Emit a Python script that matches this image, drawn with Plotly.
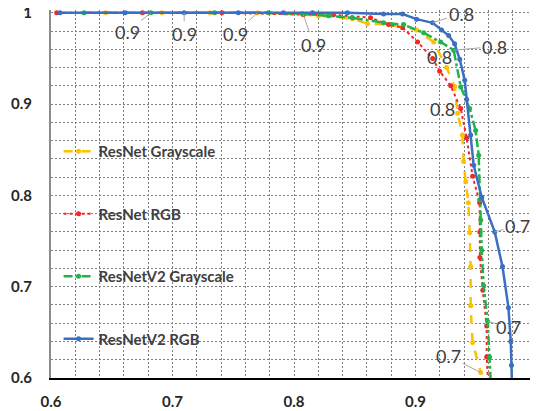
import plotly.graph_objects as go

# ---- data (recall, precision style curves) ----
orange_x = [0.645, 0.6913, 0.7311, 0.7698, 0.8077, 0.8201, 0.8481, 0.8605, 0.8787, 0.9009, 0.9149,
            0.9256, 0.9322, 0.9347, 0.9386, 0.9396, 0.9413, 0.9435, 0.9446, 0.9454, 0.9454, 0.9470, 0.9537]
orange_y = [1.0, 1.0, 1.0, 1.0, 0.9978, 0.9967, 0.9934, 0.988, 0.987, 0.981, 0.968,
            0.940, 0.919, 0.890, 0.866, 0.837, 0.815, 0.792, 0.759, 0.722, 0.679, 0.639, 0.606]

red_x = [0.6047, 0.6753, 0.7407, 0.8077, 0.8325, 0.863, 0.8778, 0.8894, 0.9017, 0.9141, 0.9199,
         0.929, 0.9372, 0.9421, 0.9470, 0.9528, 0.953, 0.953, 0.9554, 0.9586, 0.9586, 0.9600]
red_y = [1.0, 1.0, 1.0, 0.998, 0.9978, 0.9945, 0.987, 0.9836, 0.968, 0.950, 0.936,
         0.920, 0.895, 0.863, 0.821, 0.792, 0.760, 0.732, 0.696, 0.657, 0.623, 0.590]

green_x = [0.6272, 0.6822, 0.7346, 0.7789, 0.8067, 0.8284, 0.8481, 0.8737, 0.8902, 0.9067, 0.9207,
           0.9314, 0.9372, 0.9446, 0.9495, 0.952, 0.9528, 0.9537, 0.9545, 0.9561, 0.9594, 0.961, 0.9622]
green_y = [1.0, 1.0, 1.0, 1.0, 0.9989, 0.9967, 0.9945, 0.989, 0.987, 0.978, 0.968,
           0.959, 0.919, 0.895, 0.871, 0.844, 0.795, 0.773, 0.740, 0.701, 0.662, 0.623, 0.590]

blue_x = [0.6074, 0.661, 0.7096, 0.7542, 0.7913, 0.8152, 0.844, 0.8737, 0.8894, 0.9009, 0.9141,
          0.9215, 0.9273, 0.9322, 0.9364, 0.9405, 0.9421, 0.9454, 0.9479, 0.9545, 0.9652, 0.9716,
          0.9765, 0.9784, 0.979, 0.9795]
blue_y = [1.0, 1.0, 1.0, 1.0, 1.0, 1.0, 1.0, 0.9986, 0.9986, 0.993, 0.989,
          0.981, 0.975, 0.966, 0.949, 0.926, 0.905, 0.866, 0.833, 0.798, 0.760, 0.722,
          0.677, 0.640, 0.614, 0.590]

names = ["ResNet Grayscale", "ResNet RGB", "ResNetV2 Grayscale", "ResNetV2 RGB"]

tick_vals = [0.6, 0.7, 0.8, 0.9, 1.0]
tick_text = ["0.6", "0.7", "0.8", "0.9", "1"]

# threshold labels: (text, point x, point y, label x, label y, leader)
label_text = ["0.9", "0.9", "0.9", "0.9", "0.8", "0.8", "0.8", "0.8", "0.7", "0.7", "0.7"]
label_px = [0.6822, 0.7096, 0.7698, 0.8077, 0.9141, 0.9314, 0.9141, 0.9347, 0.9652, 0.9594, 0.9537]
label_py = [1.0, 1.0, 1.0, 0.998, 0.989, 0.959, 0.950, 0.890, 0.760, 0.662, 0.606]
label_lx = [0.6627, 0.7096, 0.7517, 0.8160, 0.9375, 0.9650, 0.9200, 0.9223, 0.9840, 0.9768, 0.9273]
label_ly = [0.979, 0.977, 0.977, 0.965, 0.999, 0.963, 0.951, 0.895, 0.767, 0.656, 0.624]
label_leader = [True, True, True, True, True, True, False, False, True, True, True]

fig = go.Figure()

styles = [
    dict(color="#FFC000", dash="dash", width=2.5),
    dict(color="#F02828", dash="dot", width=2),
    dict(color="#22B24C", dash="dashdot", width=2.5),
    dict(color="#3A6FC4", dash="solid", width=2.5),
]
series = [(orange_x, orange_y), (red_x, red_y), (green_x, green_y), (blue_x, blue_y)]

for i, ((xs, ys), st) in enumerate(zip(series, styles)):
    fig.add_trace(go.Scatter(
        x=xs, y=ys, mode="lines+markers", name=names[i],
        legendgroup=f"g{i}",
        line=dict(color=st["color"], dash=st["dash"], width=st["width"]),
        marker=dict(color=st["color"], size=5, symbol="circle"),
    ))

lab_font = dict(family="Lato", size=18, color="#404040")
for t, px, py, lx, ly, lead in zip(label_text, label_px, label_py, label_lx, label_ly, label_leader):
    if lead:
        fig.add_annotation(x=px, y=py, ax=lx, ay=ly, xref="x", yref="y", axref="x", ayref="y",
                           text=t, showarrow=True, arrowhead=0, arrowwidth=1, arrowcolor="#A6A6A6",
                           standoff=0, font=lab_font)
    else:
        fig.add_annotation(x=lx, y=ly, xref="x", yref="y", text=t, showarrow=False, font=lab_font)

grid_common = dict(gridcolor="#7F7F7F", gridwidth=1, griddash="2px,2px")
tick_font = dict(family="Lato", size=15, color="#262626", weight="bold")

fig.update_xaxes(
    range=[0.6, 1.0], tickvals=tick_vals, ticktext=tick_text,
    showgrid=True, **grid_common,
    minor=dict(dtick=0.02, tick0=0.6, showgrid=True, **grid_common),
    showline=True, linecolor="#000000", linewidth=1.5,
    ticks="", ticklabelstandoff=9, automargin=False, zeroline=False,
    ticklabeloverflow="allow", tickfont=tick_font,
)
fig.update_yaxes(
    range=[0.6, 1.003], tickvals=tick_vals, ticktext=tick_text,
    showgrid=True, **grid_common,
    minor=dict(dtick=0.02, tick0=0.6, showgrid=True, **grid_common),
    showline=True, linecolor="#8C8C8C", linewidth=2,
    ticks="", ticklabelstandoff=14, automargin=False, zeroline=False,
    ticklabeloverflow="allow", tickfont=tick_font,
)

fig.update_layout(
    width=530, height=403,
    margin=dict(l=43, r=1, t=2, b=33),
    paper_bgcolor="white", plot_bgcolor="white",
    showlegend=True,
    legend=dict(x=0.0156, y=0.66, xanchor="left", yanchor="top", bgcolor="rgba(0,0,0,0)",
                itemwidth=30, tracegroupgap=40,
                font=dict(family="Lato", size=15, color="#404040", weight="bold")),
)

fig.write_html("out.html")
